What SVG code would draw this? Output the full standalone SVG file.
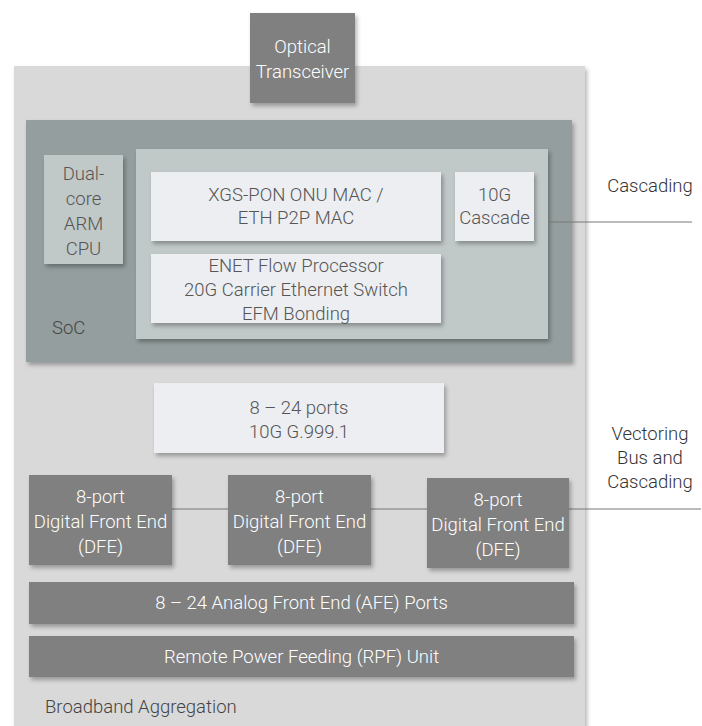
<svg xmlns="http://www.w3.org/2000/svg" width="702" height="726" viewBox="0 0 702 726">
<defs>
<filter id="sh" x="-10%" y="-10%" width="130%" height="130%">
<feDropShadow dx="2" dy="3" stdDeviation="2" flood-color="#000" flood-opacity="0.3"/>
</filter>
<style>
text{font-family:Roboto,"Liberation Sans",sans-serif;font-weight:300;font-size:18.5px;text-anchor:middle}
.dark rect{fill:#808080;filter:url(#sh)}
.dark text{fill:#ffffff}
.light rect{fill:#eceef1;filter:url(#sh)}
.light text{fill:#555555}
.lbl{fill:#444444;text-anchor:start}
.ext{fill:#333333}
.conn line{stroke:#777777;stroke-width:1}
</style>
</defs>
<rect width="702" height="726" fill="#ffffff"/>
<g id="broadband">
<rect x="14" y="66" width="571" height="670" fill="#d9d9d9" filter="url(#sh)"/>
<text class="lbl" x="45" y="713">Broadband Aggregation</text>
</g>
<g id="soc">
<rect x="26" y="120" width="546" height="242" fill="#949e9e" filter="url(#sh)"/>
<text class="lbl" x="52" y="334">SoC</text>
</g>
<g id="soc-inner">
<rect x="136" y="149" width="412" height="190" fill="#c1c8c8" filter="url(#sh)"/>
</g>
<g class="conn" id="connectors">
<line x1="548" y1="222" x2="692" y2="222"/>
<line x1="172" y1="509" x2="228" y2="509"/>
<line x1="371" y1="509" x2="427" y2="509"/>
<line x1="569" y1="509" x2="701" y2="509"/>
</g>
<g id="optical" class="dark">
<rect x="250" y="13" width="105" height="90"/>
<text x="302.5" y="53">Optical</text>
<text x="302.5" y="78">Transceiver</text>
</g>
<g id="cpu" class="light">
<rect x="44" y="155" width="79" height="109" style="fill:#c1c8c8"/>
<text x="83.5" y="180">Dual-</text>
<text x="83.5" y="205">core</text>
<text x="83.5" y="230">ARM</text>
<text x="83.5" y="255">CPU</text>
</g>
<g id="xgs" class="light">
<rect x="151" y="172" width="290" height="69"/>
<text x="296" y="201">XGS-PON ONU MAC /</text>
<text x="296" y="224">ETH P2P MAC</text>
</g>
<g id="cascade10g" class="light">
<rect x="455" y="172" width="79" height="69"/>
<text x="494.5" y="201">10G</text>
<text x="494.5" y="224">Cascade</text>
</g>
<g id="enet" class="light">
<rect x="151" y="254" width="290" height="69"/>
<text x="296" y="272">ENET Flow Processor</text>
<text x="296" y="296">20G Carrier Ethernet Switch</text>
<text x="296" y="320">EFM Bonding</text>
</g>
<g id="ports" class="light">
<rect x="154" y="383" width="290" height="70"/>
<text x="299" y="414">8 – 24 ports</text>
<text x="299" y="438">10G G.999.1</text>
</g>
<g id="dfe1" class="dark">
<rect x="29" y="475" width="143" height="90"/>
<text x="100.5" y="503">8-port</text>
<text x="100.5" y="528">Digital Front End</text>
<text x="100.5" y="553">(DFE)</text>
</g>
<g id="dfe2" class="dark">
<rect x="228" y="475" width="143" height="90"/>
<text x="299.5" y="503">8-port</text>
<text x="299.5" y="528">Digital Front End</text>
<text x="299.5" y="553">(DFE)</text>
</g>
<g id="dfe3" class="dark">
<rect x="427" y="478" width="142" height="90"/>
<text x="498" y="506">8-port</text>
<text x="498" y="531">Digital Front End</text>
<text x="498" y="556">(DFE)</text>
</g>
<g id="afe" class="dark">
<rect x="29" y="582" width="545" height="42"/>
<text x="301.5" y="609">8 – 24 Analog Front End (AFE) Ports</text>
</g>
<g id="rpf" class="dark">
<rect x="29" y="636" width="545" height="41"/>
<text x="301.5" y="663">Remote Power Feeding (RPF) Unit</text>
</g>
<g id="cascading-label">
<text class="ext" x="650" y="192">Cascading</text>
</g>
<g id="vectoring-label">
<text class="ext" x="650" y="440">Vectoring</text>
<text class="ext" x="650" y="464">Bus and</text>
<text class="ext" x="650" y="488">Cascading</text>
</g>
</svg>
